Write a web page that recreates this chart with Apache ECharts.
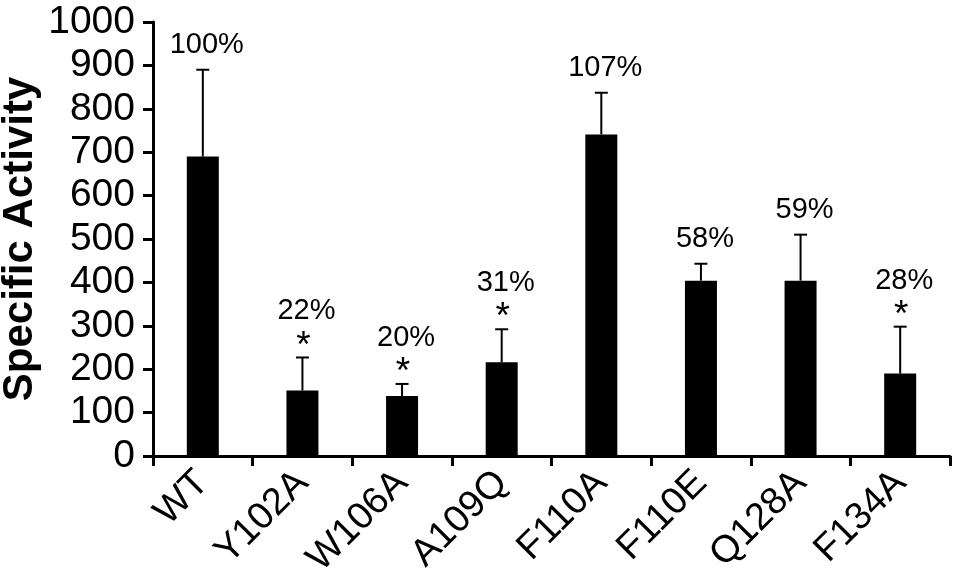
<!DOCTYPE html>
<html>
<head>
<meta charset="utf-8">
<script src="https://cdn.jsdelivr.net/npm/echarts@6/dist/echarts.min.js"></script>
<style>
html,body{margin:0;padding:0;background:#fff;}
#chart{width:957px;height:584px;}
</style>
</head>
<body>
<div id="chart"></div>
<script>
var categories = ['WT', 'Y102A', 'W106A', 'A109Q', 'F110A', 'F110E', 'Q128A', 'F134A'];
var meanValues = [690, 151, 138, 216, 741, 404, 404, 190];
var upperValues = [890, 227, 166, 292, 837, 443, 510, 298];
var percentLabels = ['100%', '22%', '20%', '31%', '107%', '58%', '59%', '28%'];
var significant = [false, true, true, true, false, false, false, true];
var yTicks = [0, 100, 200, 300, 400, 500, 600, 700, 800, 900, 1000];

var FONT = '"Liberation Sans", Arial, Helvetica, sans-serif';
var errData = categories.map(function (c, i) { return [i, meanValues[i], upperValues[i]]; });

var chart = echarts.init(document.getElementById('chart'), null, {renderer: 'canvas'});
chart.setOption({
  backgroundColor: '#fff',
  animation: false,
  grid: {left: 153, right: 7, top: 22, bottom: 128, containLabel: false, outerBoundsMode: 'none'},
  xAxis: {
    type: 'category',
    data: categories,
    boundaryGap: true,
    axisLine: {lineStyle: {color: '#000', width: 3}},
    axisTick: {show: true, length: 10, lineStyle: {color: '#000', width: 3}},
    axisLabel: {rotate: 45, fontSize: 38, color: '#000', fontFamily: FONT, margin: 21, interval: 0}
  },
  yAxis: {
    type: 'value',
    min: yTicks[0],
    max: yTicks[yTicks.length - 1],
    interval: 100,
    name: 'Specific Activity',
    nameLocation: 'middle',
    nameRotate: 90,
    nameGap: 112,
    nameMoveOverlap: false,
    nameTextStyle: {fontSize: 42, fontWeight: 'bold', color: '#000', fontFamily: FONT},
    axisLine: {show: true, lineStyle: {color: '#000', width: 3}},
    axisTick: {show: true, length: 10, lineStyle: {color: '#000', width: 3}},
    axisLabel: {fontSize: 39, color: '#000', fontFamily: FONT, margin: 18, formatter: function (v) { return String(v); }},
    splitLine: {show: false}
  },
  series: [
    {
      type: 'bar',
      data: meanValues,
      barWidth: 32,
      itemStyle: {color: '#000'},
      z: 2
    },
    {
      type: 'custom',
      data: errData,
      z: 3,
      renderItem: function (params, api) {
        var i = params.dataIndex;
        var x = api.value(0);
        var pMean = api.coord([x, api.value(1)]);
        var pUp = api.coord([x, api.value(2)]);
        var cx = pMean[0];
        var children = [
          {type: 'line', shape: {x1: cx, y1: pMean[1], x2: cx, y2: pUp[1]}, style: {stroke: '#000', lineWidth: 2}},
          {type: 'line', shape: {x1: cx - 6.5, y1: pUp[1], x2: cx + 6.5, y2: pUp[1]}, style: {stroke: '#000', lineWidth: 2}}
        ];
        var sig = significant[i];
        children.push({
          type: 'text',
          style: {
            text: percentLabels[i], x: cx + 4, y: pUp[1] - (sig ? 46 : 25),
            align: 'center', verticalAlign: 'middle',
            fontSize: 29, fontFamily: FONT, fill: '#000'
          }
        });
        if (sig) {
          children.push({
            type: 'text',
            style: {
              text: '*', x: cx + 1, y: pUp[1] - 11,
              align: 'center', verticalAlign: 'middle',
              fontSize: 37, fontFamily: FONT, fill: '#000'
            }
          });
        }
        return {type: 'group', children: children};
      }
    }
  ]
});
</script>
</body>
</html>
